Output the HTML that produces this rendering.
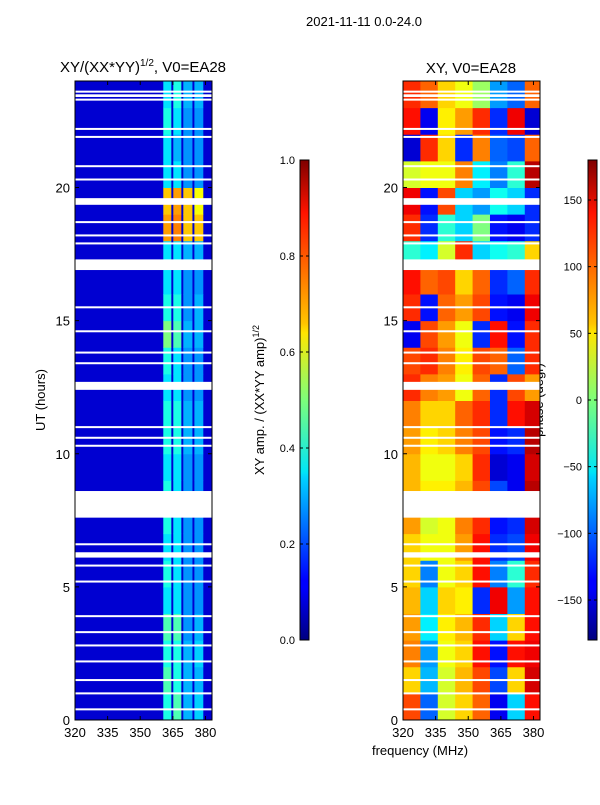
<!DOCTYPE html>
<html><head><meta charset="utf-8"><style>
body{margin:0;background:#fff;}
svg text{font-family:"Liberation Sans","DejaVu Sans",sans-serif;fill:#000;}
</style></head><body>
<svg id="fig" width="600" height="800" xmlns="http://www.w3.org/2000/svg">
<text x="364" y="26" font-size="13" text-anchor="middle">2021-11-11 0.0-24.0</text>
<text x="143" y="72" font-size="15" text-anchor="middle">XY/(XX*YY)<tspan font-size="10" dy="-6">1/2</tspan><tspan dy="6">, V0=EA28</tspan></text>
<text x="471" y="73" font-size="15" text-anchor="middle">XY, V0=EA28</text>
<text x="45" y="400" font-size="13" text-anchor="middle" transform="rotate(-90 45 400)">UT (hours)</text>
<text x="420" y="755" font-size="13" text-anchor="middle">frequency (MHz)</text>
<text x="264" y="400" font-size="13" text-anchor="middle" transform="rotate(-90 264 400)">XY amp. / (XX*YY amp)<tspan font-size="9" dy="-5">1/2</tspan></text>
<text x="543" y="400" font-size="13" text-anchor="middle" transform="rotate(-90 543 400)">phase (degr)</text>
<defs>
<linearGradient id="jet" x1="0" y1="1" x2="0" y2="0">
<stop offset="0" stop-color="#00007f"/><stop offset="0.11" stop-color="#0000ff"/><stop offset="0.125" stop-color="#0000ff"/>
<stop offset="0.34" stop-color="#00d4ff"/><stop offset="0.35" stop-color="#00e5f7"/><stop offset="0.5" stop-color="#7dff7a"/>
<stop offset="0.64" stop-color="#ffe600"/><stop offset="0.66" stop-color="#ffc400"/><stop offset="0.89" stop-color="#ff1300"/><stop offset="1" stop-color="#7f0000"/>
</linearGradient>
</defs>
<g id="left"></g>
<g id="right"></g>
<g id="axes"></g>
</svg>
<script>
const ampBandsMHz=[[360.6,364.3],[365.2,368.9],[369.8,374.0],[374.9,379.0]];
const ampBg=0.08;
const ampBand1=[0.4,0.45,0.4,0.45,0.35,0.4,0.35,0.4,0.4,0.35,0.4,0.4,0.35,0.4,0.5,0.4,0.35,0.35,0.72,0.68,0.35,0.35,0.4,0.35];
const ampBand2=[0.45,0.4,0.4,0.45,0.35,0.35,0.35,0.35,0.35,0.35,0.4,0.4,0.35,0.35,0.45,0.4,0.35,0.35,0.75,0.72,0.35,0.3,0.35,0.4];
const ampBand3=[0.3,0.3,0.3,0.27,0.27,0.27,0.27,0.27,0.27,0.27,0.3,0.3,0.27,0.27,0.3,0.27,0.27,0.3,0.68,0.68,0.27,0.27,0.27,0.3];
const ampBand4=[0.33,0.3,0.33,0.3,0.27,0.27,0.27,0.27,0.27,0.27,0.3,0.3,0.27,0.27,0.3,0.3,0.27,0.3,0.68,0.62,0.27,0.27,0.27,0.3];
const phaseFreqEdges=[320,328,336,344,352,360,368,376,383];
const phaseRows=[
[110,-100,30,60,100,-140,-60,130],[60,-70,30,70,110,-110,60,150],[90,-80,40,60,130,-130,130,140],
[80,-50,50,70,120,-60,60,130],[70,-60,60,50,-120,140,-80,130],[60,-90,40,60,130,-90,-30,120],
[60,40,40,80,130,-120,-110,140],[80,30,40,90,120,-130,-120,150],[70,50,50,70,110,-110,-140,160],
[70,40,40,60,120,-150,-140,150],[80,50,60,90,110,-130,-120,160],[90,60,60,100,120,-120,130,150],
[120,90,80,40,100,-120,110,80],[110,120,90,50,110,100,-100,120],[-140,110,80,40,-120,130,-130,120],
[120,-130,100,80,110,-130,-140,140],[130,100,110,60,100,-120,-100,120],[-30,-50,30,120,-60,-40,-30,60],
[120,-120,-30,-60,0,-130,-140,-120],[140,-130,110,-60,-80,-40,-60,-120],[30,40,40,90,-50,-90,-30,160],
[-150,120,60,-120,90,-100,-110,100],[130,-140,50,80,120,-120,140,-150],[120,100,60,40,10,-80,-100,100]];
const gapsWide=[[7.6,8.6],[6.1,6.3],[12.4,12.7],[16.9,17.3],[19.35,19.6],[23.4,23.5]];
const gapsThin=[23.6,23.3,22.2,21.9,20.8,20.3,18.7,18.2,17.9,15.5,14.6,13.8,13.4,11.0,10.6,10.3,6.6,5.8,5.2,3.9,3.3,2.8,2.2,1.5,1.0,0.4];
const xTicks=[320,335,350,365,380];
const yTicks=[0,5,10,15,20];
const ampTicks=[0,0.2,0.4,0.6,0.8,1.0];
const phaseTicks=[-150,-100,-50,0,50,100,150];

const NS="http://www.w3.org/2000/svg";
function jet(v){v=Math.max(0,Math.min(1,v));
 const r=Math.max(0,Math.min(1,1.5-Math.abs(4*v-3))),g=Math.max(0,Math.min(1,1.5-Math.abs(4*v-2))),b=Math.max(0,Math.min(1,1.5-Math.abs(4*v-1)));
 return `rgb(${Math.round(r*255)},${Math.round(g*255)},${Math.round(b*255)})`;}
function el(t,a,p){const e=document.createElementNS(NS,t);for(const k in a)e.setAttribute(k,a[k]);p.appendChild(e);return e;}
const yTop=81,yBot=720,hMax=24;
function ys(h){return yBot-(h/hMax)*(yBot-yTop);}
function mkX(x0){return f=>x0+(f-320)/(383-320)*137;}
const xL=mkX(75),xR=mkX(403);
const L=document.getElementById('left'),R=document.getElementById('right'),A=document.getElementById('axes');
let bg=el('rect',{x:75,y:yTop,width:137,height:yBot-yTop,fill:jet(ampBg)},L);


const bands=[ampBand1,ampBand2,ampBand3,ampBand4];
for(let b=0;b<4;b++)for(let h=0;h<24;h++){
 const r=el('rect',{x:xL(ampBandsMHz[b][0]),y:ys(h+1),width:xL(ampBandsMHz[b][1])-xL(ampBandsMHz[b][0]),height:ys(h)-ys(h+1)+0.5,fill:jet(bands[b][h])},L);
 
 }
for(let h=0;h<24;h++)for(let c=0;c<8;c++){
 const v=(phaseRows[h][c]+180)/360;
 const r=el('rect',{x:xR(phaseFreqEdges[c]),y:ys(h+1),width:xR(phaseFreqEdges[c+1])-xR(phaseFreqEdges[c])+0.5,height:ys(h)-ys(h+1)+0.5,fill:jet(v)},R);
 
 }
for(const x0 of [75,403]){
 for(const g of gapsWide){const r=el('rect',{x:x0,y:ys(g[1]),width:137,height:ys(g[0])-ys(g[1]),fill:'#fff'},A);
  
  }
 for(const g of gapsThin){const r=el('rect',{x:x0,y:ys(g)-1,width:137,height:2,fill:'#fff'},A);
  
  }
}
for(const [x0,xs,nm] of [[75,xL,'left'],[403,xR,'right']]){
 const f=el('rect',{x:x0,y:yTop,width:137,height:yBot-yTop,fill:'none',stroke:'#000','stroke-width':1},A);
 
 
 for(const t of xTicks){const x=xs(t);
  el('line',{x1:x,x2:x,y1:yBot,y2:yBot-4,stroke:'#000'},A);el('line',{x1:x,x2:x,y1:yTop,y2:yTop+4,stroke:'#000'},A);
  const tx=el('text',{x:x,y:yBot+17,'font-size':13,'text-anchor':'middle'},A);tx.textContent=t;
  
  }
 for(const t of yTicks){const y=ys(t);
  el('line',{x1:x0,x2:x0+4,y1:y,y2:y,stroke:'#000'},A);el('line',{x1:x0+137,x2:x0+133,y1:y,y2:y,stroke:'#000'},A);
  const tx=el('text',{x:x0-5,y:y+5,'font-size':13,'text-anchor':'end'},A);tx.textContent=t;
  
  }
}
for(const [cx,ticks,lo,hi,nm,fmt] of [[300,ampTicks,0,1,'amp',t=>t.toFixed(1)],[588,phaseTicks,-180,180,'phase',t=>t<0?'\u2212'+(-t):''+t]]){
 const c=el('rect',{x:cx,y:160,width:9,height:480,fill:'url(#jet)',stroke:'#000','stroke-width':1},A);
 
 
 for(const t of ticks){const y=640-(t-lo)/(hi-lo)*480;
  el('line',{x1:cx,x2:cx+3,y1:y,y2:y,stroke:'#000'},A);el('line',{x1:cx+9,x2:cx+6,y1:y,y2:y,stroke:'#000'},A);
  const tx=el('text',{x:nm==='amp'?cx-5:cx-6,y:y+4,'font-size':11,'text-anchor':'end'},A);tx.textContent=fmt(t);
  
  }
}
</script>
</body></html>
